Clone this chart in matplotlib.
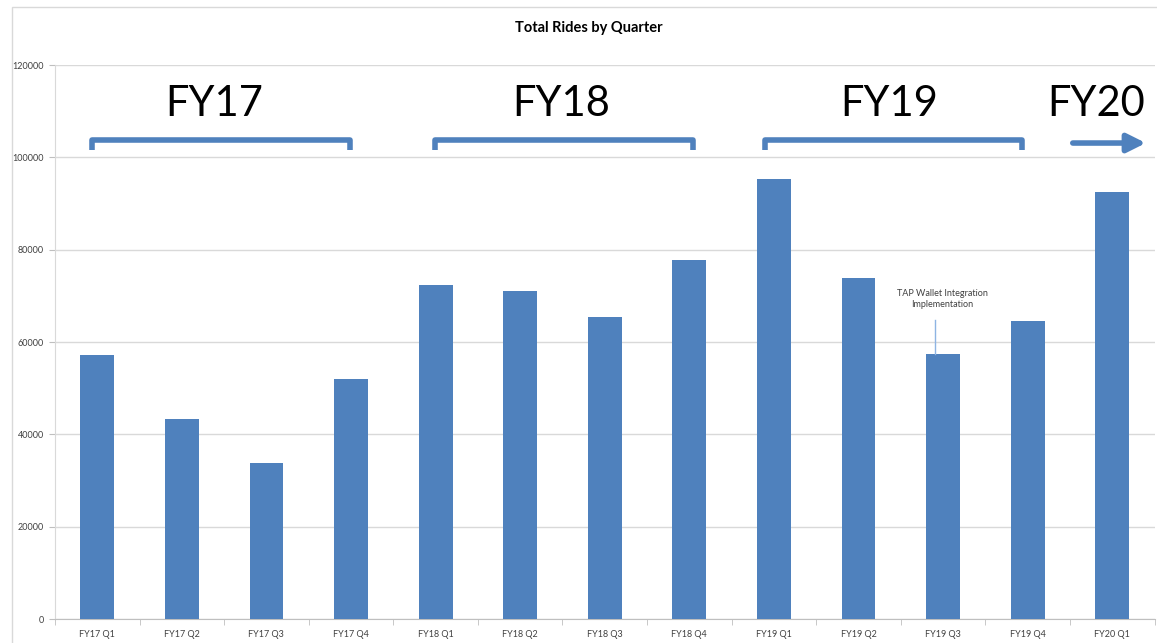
import numpy as np
import matplotlib
matplotlib.use('Agg')
import matplotlib.pyplot as plt
from matplotlib.patches import Rectangle

plt.rcParams['font.family'] = ['Lato', 'DejaVu Sans']

# data
quarters = ['FY17 Q1', 'FY17 Q2', 'FY17 Q3', 'FY17 Q4',
            'FY18 Q1', 'FY18 Q2', 'FY18 Q3', 'FY18 Q4',
            'FY19 Q1', 'FY19 Q2', 'FY19 Q3', 'FY19 Q4', 'FY20 Q1']
rides = [57200, 43300, 33800, 52000,
         72300, 71100, 65400, 77800,
         95300, 73900, 57400, 64500, 92500]
yticks = [0, 20000, 40000, 60000, 80000, 100000, 120000]
fy_groups = ['FY17', 'FY18', 'FY19']
bar_color = '#4F81BD'

# bracket extents / label spots, in category units
br_left = [-0.06, 3.99, 7.89]
br_right = [2.99, 7.04, 10.93]
fy_label_x = [1.38, 5.49, 9.36]

fig = plt.figure(figsize=(11.57, 6.43), dpi=100)
ax = fig.add_axes([0.0475, 0.0373, 0.9504, 0.8616])

x = np.arange(len(quarters))
ax.bar(x, rides, width=0.4, color=bar_color, zorder=3)

ax.set_xlim(-0.5, len(quarters) - 0.5)
ax.set_ylim(0, 120000)
ax.set_yticks(yticks)
ax.set_yticklabels([str(v) for v in yticks], fontsize=6.5, color='#404040')
ax.set_xticks(x)
ax.set_xticklabels(quarters, fontsize=6.5, color='#404040')
ax.set_xticks(np.arange(-0.5, len(quarters)), minor=True)
ax.tick_params(axis='x', which='major', length=0, pad=8)
ax.tick_params(axis='x', which='minor', length=4, color='#bfbfbf')
ax.tick_params(axis='y', length=4, color='#bfbfbf', pad=4)
ax.grid(axis='y', color='#d9d9d9', lw=1, zorder=0)
for s in ['top', 'right']:
    ax.spines[s].set_visible(False)
ax.spines['left'].set_color('#d9d9d9')
ax.spines['bottom'].set_color('#bfbfbf')

fig.text(0.509, 0.957, 'Total Rides by Quarter', ha='center', va='center',
         fontsize=10.5, fontweight='bold')

# fiscal year brackets
for name, x0, x1, tx in zip(fy_groups, br_left, br_right, fy_label_x):
    ax.plot([x0, x0, x1, x1], [101600, 103700, 103700, 101600], color=bar_color,
            lw=4, solid_joinstyle='round', solid_capstyle='butt', clip_on=False, zorder=4)
    ax.text(tx, 111600, name, ha='center', va='center', fontsize=30)

ax.text(11.81, 111600, 'FY20', ha='center', va='center', fontsize=30)
ax.annotate('', xy=(12.43, 103100), xytext=(11.5, 103100),
            arrowprops=dict(arrowstyle='-|>,head_length=1.1,head_width=0.55',
                            color=bar_color, lw=4), annotation_clip=False)

# annotation
ax.text(9.99, 69300, 'TAP Wallet Integration\nImplementation', ha='center',
        va='center', fontsize=6.5, color='#404040', linespacing=1.4)
ax.plot([9.9, 9.9], [57400, 64700], color='#8eb4e3', lw=1, zorder=4)

fig.add_artist(Rectangle((12 / 1157, -0.01), 1.0, 1 - 7 / 643 + 0.01,
                         transform=fig.transFigure, fill=False,
                         edgecolor='#d9d9d9', lw=1))

fig.savefig('out.png', dpi=100)
